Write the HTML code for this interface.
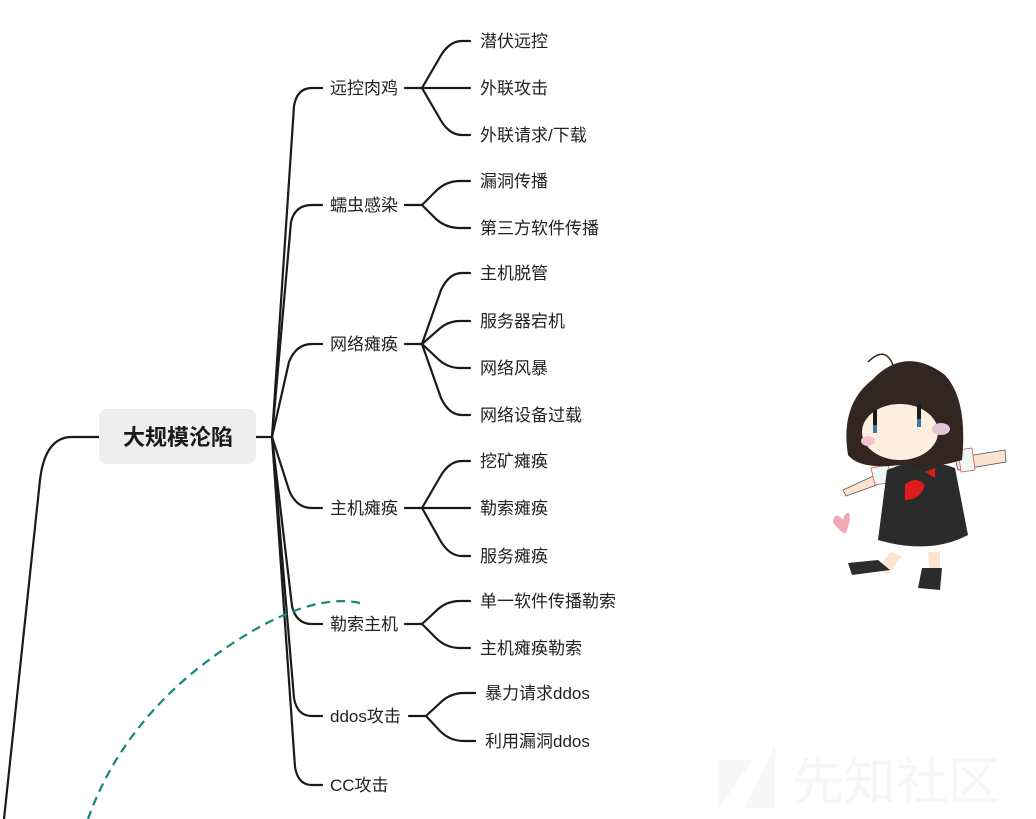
<!DOCTYPE html>
<html><head><meta charset="utf-8"><style>
html,body{margin:0;padding:0;background:#fff;}
svg{display:block}
text{font-family:"Liberation Sans","Noto Sans CJK SC",sans-serif;fill:#222;}
</style></head><body>
<svg width="1036" height="819" viewBox="0 0 1036 819" xmlns="http://www.w3.org/2000/svg">
<polygon points="718,810 718,760 752,760" fill="#f7f7f7"/>
<polygon points="745,808 775,745 775,808" fill="#f7f7f7"/>
<text x="792" y="800" font-size="52" style="fill:#f6f6f6">先知社区</text>

<g fill="none" stroke="#1a1a1a" stroke-width="2.2" stroke-linecap="round">
<path d="M99 437 H72 Q45 437 40 480 L4 819"/>
<path d="M256 437 H272"/>
<path d="M272 437 L294 106 Q297 88 312 88 H322"/>
<path d="M272 437 L291 222 Q295 205 312 205 H322"/>
<path d="M272 437 L289 362 Q296 344 312 344 H322"/>
<path d="M272 437 L289 490 Q296 508 312 508 H322"/>
<path d="M272 437 L292 606 Q296 624 312 624 H322"/>
<path d="M272 437 L294 698 Q297 716 312 716 H322"/>
<path d="M272 437 L295 767 Q298 785 312 785 H322"/>
<path d="M405 88 H422"/>
<path d="M422 88 L440 57 Q449 41 462 41 H470"/>
<path d="M422 88 H470"/>
<path d="M422 88 L440 119 Q449 135 462 135 H470"/>
<path d="M405 205 H422"/>
<path d="M422 205 L436 191 Q446 181 460 181 H470"/>
<path d="M422 205 L436 219 Q446 228 460 228 H470"/>
<path d="M405 344 H422"/>
<path d="M422 344 L441 290 Q449 273 462 273 H470"/>
<path d="M422 344 L437 331 Q447 321 460 321 H470"/>
<path d="M422 344 L437 358 Q447 368 460 368 H470"/>
<path d="M422 344 L441 398 Q449 415 462 415 H470"/>
<path d="M405 508 H422"/>
<path d="M422 508 L440 477 Q449 461 462 461 H470"/>
<path d="M422 508 H470"/>
<path d="M422 508 L440 540 Q449 556 462 556 H470"/>
<path d="M405 624 H422"/>
<path d="M422 624 L436 611 Q446 601 460 601 H470"/>
<path d="M422 624 L436 638 Q446 648 460 648 H470"/>
<path d="M409 716 H426"/>
<path d="M426 716 L440 703 Q450 693 464 693 H475"/>
<path d="M426 716 L440 731 Q450 741 464 741 H475"/>
</g>
<path d="M360 603 Q310 592 230 645 Q125 715 88 819" fill="none" stroke="#12897a" stroke-width="2.2" stroke-dasharray="9 6"/>

<rect x="99" y="409" width="157" height="55" rx="8" fill="#eeeeee"/>
<text x="178" y="445" font-size="22" font-weight="bold" text-anchor="middle" style="fill:#1a1a1a">大规模沦陷</text>

<g font-size="17">
<text x="330" y="94">远控肉鸡</text>
<text x="330" y="211">蠕虫感染</text>
<text x="330" y="350">网络瘫痪</text>
<text x="330" y="514">主机瘫痪</text>
<text x="330" y="630">勒索主机</text>
<text x="330" y="722">ddos攻击</text>
<text x="330" y="791">CC攻击</text>
<text x="480" y="47">潜伏远控</text>
<text x="480" y="94">外联攻击</text>
<text x="480" y="141">外联请求/下载</text>
<text x="480" y="187">漏洞传播</text>
<text x="480" y="234">第三方软件传播</text>
<text x="480" y="279">主机脱管</text>
<text x="480" y="327">服务器宕机</text>
<text x="480" y="374">网络风暴</text>
<text x="480" y="421">网络设备过载</text>
<text x="480" y="467">挖矿瘫痪</text>
<text x="480" y="514">勒索瘫痪</text>
<text x="480" y="562">服务瘫痪</text>
<text x="480" y="607">单一软件传播勒索</text>
<text x="480" y="654">主机瘫痪勒索</text>
<text x="485" y="699">暴力请求ddos</text>
<text x="485" y="747">利用漏洞ddos</text>
</g>

<g>
<path d="M843 490 L882 472 L885 482 L846 496 Z" fill="#fbe3cf" stroke="#555" stroke-width="0.8"/>
<path d="M955 458 L1005 450 L1006 462 L958 470 Z" fill="#fbe3cf" stroke="#555" stroke-width="0.8"/>
<path d="M871 468 L888 465 L892 482 L875 485 Z" fill="#eef8f5" stroke="#d55" stroke-width="0.8"/>
<path d="M958 450 L972 448 L975 470 L961 472 Z" fill="#eef8f5" stroke="#d55" stroke-width="0.8"/>
<path d="M890 552 L878 570 L888 575 L902 556 Z" fill="#fbe3cf"/>
<path d="M928 552 L930 575 L940 575 L940 552 Z" fill="#fbe3cf"/>
<path d="M887 470 Q920 455 955 468 L968 535 Q930 555 878 540 Z" fill="#2b2b2b"/>
<path d="M878 560 L848 563 L852 575 L890 570 Z" fill="#2b2b2b"/>
<path d="M922 568 L918 588 L940 590 L942 568 Z" fill="#2b2b2b"/>
<path d="M905 485 Q915 475 925 485 Q920 500 905 500 Z" fill="#e01b1b"/>
<path d="M925 472 L935 468 L935 478 Z" fill="#e01b1b"/>
<path d="M872 380 Q905 345 945 375 Q968 400 962 460 Q930 470 900 465 Q860 470 848 455 Q840 405 872 380 Z" fill="#332620"/>
<ellipse cx="900" cy="432" rx="38" ry="28" fill="#fdeedf"/>
<rect x="873" y="410" width="4" height="22" fill="#1a1a1a"/>
<rect x="917" y="404" width="4" height="22" fill="#1a1a1a"/>
<rect x="873" y="425" width="4" height="8" fill="#3a7aa8"/>
<rect x="917" y="419" width="4" height="8" fill="#3a7aa8"/>
<ellipse cx="868" cy="441" rx="7" ry="5" fill="#f3c3cc"/>
<ellipse cx="941" cy="429" rx="9" ry="6" fill="#e3c3d6"/>
<path d="M868 362 Q885 345 893 365" fill="none" stroke="#332620" stroke-width="1.5"/>
<path d="M843 520 Q835 510 833 522 Q836 528 845 534 Q852 520 849 513 Q845 512 843 520 Z" fill="#f2a9b3"/>
</g>
</svg>
</body></html>
